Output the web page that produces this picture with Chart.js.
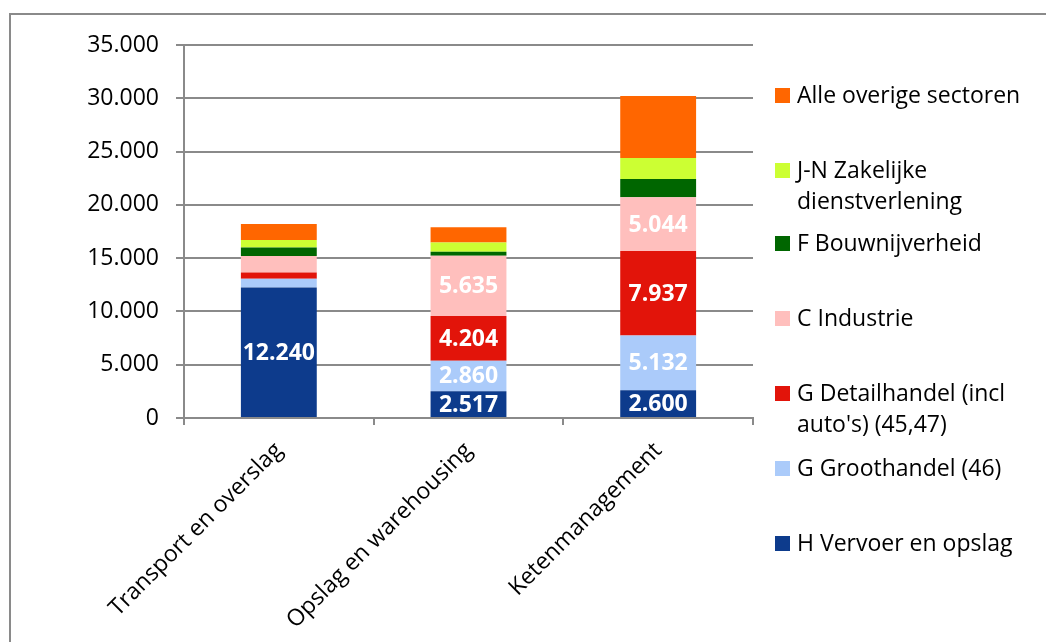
<!DOCTYPE html>
<html>
<head>
<meta charset="utf-8">
<script src="https://cdn.jsdelivr.net/npm/chart.js@4/dist/chart.umd.min.js"></script>
<style>
    body { margin: 0; background: #fff; }
    #wrap { position: relative; width: 1046px; height: 642px; overflow: hidden; }
    #frame { position: absolute; left: 9px; top: 13px; width: 1100px; height: 700px; border: 2px solid #8a8a8a; }
    #chart { position: absolute; left: 0; top: 0; }
    .legend { position: absolute; left: 775px; font-family: "Open Sans", sans-serif; font-size: 23px; line-height: 31px; color: #000; }
    .legend .sw { position: absolute; left: 0; top: 8px; width: 15px; height: 15px; }
    .legend .tx { position: absolute; left: 22px; top: -1px; white-space: nowrap; }
</style>
</head>
<body>
<div id="wrap">
    <div id="frame"></div>
    <canvas id="chart" width="1046" height="642"></canvas>
    <div id="legend"></div>
</div>
<script>
const categories = ['Transport en overslag', 'Opslag en warehousing', 'Ketenmanagement'];

const vervoer = [12240, 2517, 2600];
const groothandel = [815, 2860, 5132];
const detailhandel = [590, 4204, 7937];
const industrie = [1565, 5635, 5044];
const bouw = [780, 375, 1720];
const zakelijk = [720, 875, 1970];
const overig = [1500, 1435, 5820];

const yTicks = [0, 5000, 10000, 15000, 20000, 25000, 30000, 35000];

const series = [
    { label: 'H Vervoer en opslag', data: vervoer, color: '#0d3b8c', showValues: true },
    { label: 'G Groothandel (46)', data: groothandel, color: '#abcbfa', showValues: true },
    { label: "G Detailhandel (incl auto's) (45,47)", data: detailhandel, color: '#e2140a', showValues: true },
    { label: 'C Industrie', data: industrie, color: '#ffbfbd', showValues: true },
    { label: 'F Bouwnijverheid', data: bouw, color: '#006600', showValues: false },
    { label: 'J-N Zakelijke dienstverlening', data: zakelijk, color: '#ccff33', showValues: false },
    { label: 'Alle overige sectoren', data: overig, color: '#ff6600', showValues: false },
];

// legend entries top to bottom, with manual line breaks like the original
const legendItems = [
    { idx: 6, lines: ['Alle overige sectoren'], top: 80 },
    { idx: 5, lines: ['J-N Zakelijke', 'dienstverlening'], top: 155 },
    { idx: 4, lines: ['F Bouwnijverheid'], top: 228 },
    { idx: 3, lines: ['C Industrie'], top: 303 },
    { idx: 2, lines: ['G Detailhandel (incl', "auto's) (45,47)"], top: 378 },
    { idx: 1, lines: ['G Groothandel (46)'], top: 453 },
    { idx: 0, lines: ['H Vervoer en opslag'], top: 528 },
];

function formatNumber(v) {
    return v.toLocaleString('de-DE');
}

const FONT = '"Open Sans", sans-serif';

const valueLabels = {
    id: 'valueLabels',
    afterDatasetsDraw(chart) {
        const ctx = chart.ctx;
        ctx.save();
        ctx.font = 'bold 23px ' + FONT;
        ctx.fillStyle = '#fff';
        ctx.textAlign = 'center';
        ctx.textBaseline = 'middle';
        series.forEach((s, i) => {
            if (!s.showValues) { return; }
            chart.getDatasetMeta(i).data.forEach((bar, j) => {
                const v = s.data[j];
                if (v < 2000) { return; }
                ctx.fillText(formatNumber(v), bar.x, (bar.y + bar.base) / 2 + 1);
            });
        });
        ctx.restore();
    },
};

new Chart(document.getElementById('chart'), {
    type: 'bar',
    data: {
        labels: categories,
        datasets: series.map(s => ({
            label: s.label,
            data: s.data,
            backgroundColor: s.color,
            borderWidth: 0,
            barPercentage: 0.8,
            categoryPercentage: 0.5,
        })),
    },
    options: {
        responsive: false,
        animation: false,
        layout: { padding: { top: 45, right: 293, left: 0, bottom: 0 } },
        plugins: {
            legend: { display: false },
            tooltip: { enabled: false },
        },
        scales: {
            x: {
                stacked: true,
                afterFit(scale) { scale.height = 224; },
                grid: {
                    drawOnChartArea: false,
                    drawTicks: true,
                    tickLength: 7,
                    tickColor: '#8a8a8a',
                    lineWidth: 2,
                },
                border: { color: '#8a8a8a', width: 2 },
                ticks: {
                    color: '#000',
                    font: { family: FONT, size: 23 },
                    minRotation: 45,
                    maxRotation: 45,
                    padding: 12,
                },
            },
            y: {
                stacked: true,
                min: 0,
                max: 35000,
                afterFit(scale) { scale.width = 184; },
                afterBuildTicks(scale) { scale.ticks = yTicks.map(v => ({ value: v })); },
                grid: {
                    color: '#8a8a8a',
                    lineWidth: 2,
                    tickLength: 8,
                },
                border: { color: '#8a8a8a', width: 2 },
                ticks: {
                    color: '#000',
                    font: { family: FONT, size: 23 },
                    padding: 17,
                    callback: v => formatNumber(v),
                },
            },
        },
    },
    plugins: [valueLabels],
});

const legendEl = document.getElementById('legend');
legendItems.forEach(item => {
    const div = document.createElement('div');
    div.className = 'legend';
    div.style.top = item.top + 'px';
    const sw = document.createElement('div');
    sw.className = 'sw';
    sw.style.background = series[item.idx].color;
    const tx = document.createElement('div');
    tx.className = 'tx';
    tx.innerHTML = item.lines.join('<br>');
    div.appendChild(sw);
    div.appendChild(tx);
    legendEl.appendChild(div);
});
</script>
</body>
</html>
